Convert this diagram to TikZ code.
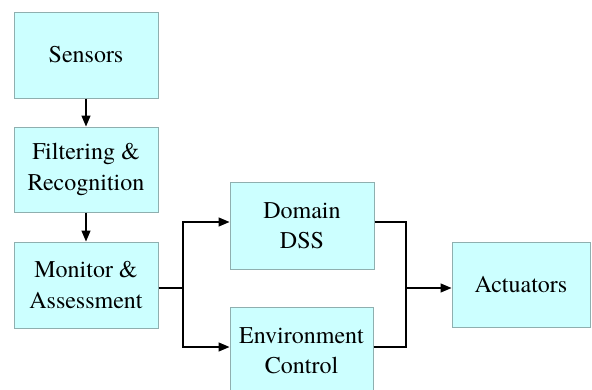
\documentclass[tikz,border=0pt]{standalone}
\usepackage{fontspec}
\newfontfamily\boxfont{TeX Gyre Termes}
\usetikzlibrary{arrows.meta}
\definecolor{boxfill}{HTML}{CCFFFF}
\definecolor{boxline}{HTML}{8FAFAF}
\begin{document}
\begin{tikzpicture}[x=1pt,y=-1pt,
  blk/.style={draw=boxline,line width=1pt,fill=boxfill,minimum width=144pt,minimum height=86pt,
    align=center,inner sep=0pt,font=\boxfont\fontsize{24}{30.5}\selectfont},
  conn/.style={line width=1.4pt,draw=black},
  arr/.style={conn,-{Triangle[length=11pt,width=9pt]}}]
\useasboundingbox (0,0) rectangle (592,389);
\clip (0,0) rectangle (592,389);
\node[blk] (sensors) at (86,55) {Sensors};
\node[blk,minimum height=85pt] (filter) at (86,169.5) {Filtering \&\\Recognition};
\node[blk] (monitor) at (86,285) {Monitor \&\\Assessment};
\node[blk,minimum height=87pt] (domain) at (302,225.5) {Domain\\DSS};
\node[blk,minimum width=143pt,minimum height=87pt] (env) at (301.5,350.5) {Environment\\Control};
\node[blk,minimum width=138pt,minimum height=85pt] (act) at (521,284.5) {Actuators};
\coordinate (jl) at (183,288);
\coordinate (jr) at (406,288);
\draw[arr] (sensors.south) -- (filter.north);
\draw[arr] (filter.south) -- (monitor.north);
\draw[conn] ([yshift=-3pt]monitor.east) -- (jl);
\draw[arr] (jl) |- ([yshift=3.5pt]domain.west);
\draw[arr] (jl) |- ([yshift=3.5pt]env.west);
\draw[conn] ([yshift=3.5pt]domain.east) -| (jr);
\draw[conn] ([yshift=3.5pt]env.east) -| (jr);
\draw[arr] (jr) -- (jr -| act.west);
\end{tikzpicture}
\end{document}
